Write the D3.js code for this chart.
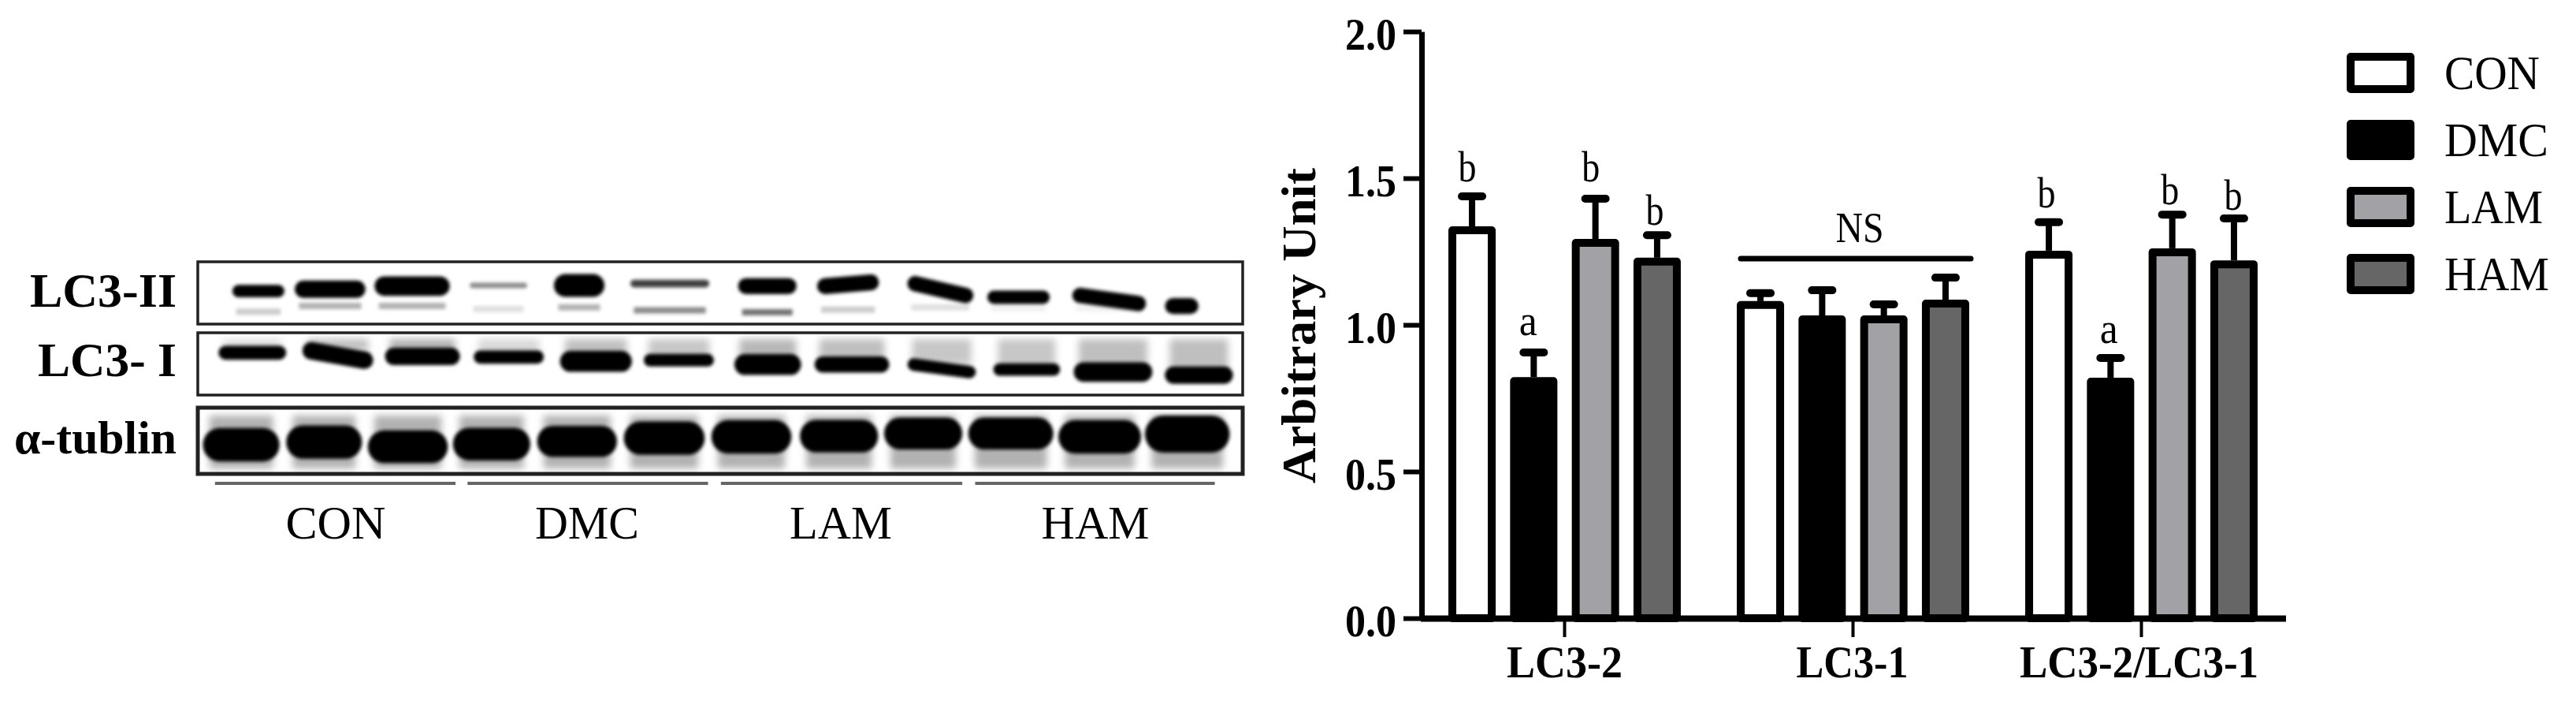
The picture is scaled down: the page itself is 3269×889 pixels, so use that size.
<!DOCTYPE html>
<html>
<head>
<meta charset="utf-8">
<script src="https://cdn.jsdelivr.net/npm/d3@7"></script>
<style>
  body { margin: 0; background: #fff; }
  text { font-family: "Liberation Serif", serif; fill: #000; }
</style>
</head>
<body>
<svg id="fig" width="3269" height="889"></svg>
<script>
// ---- bar chart data
const groups = ["LC3-2", "LC3-1", "LC3-2/LC3-1"];
const series = ["CON", "DMC", "LAM", "HAM"];
const lc32Means = [1.336, 0.822, 1.293, 1.229];
const lc31Means = [1.081, 1.032, 1.032, 1.086];
const ratioMeans = [1.253, 0.820, 1.261, 1.220];
const lc32Tops = [1.438, 0.906, 1.430, 1.306];
const lc31Tops = [1.108, 1.118, 1.070, 1.161];
const ratioTops = [1.350, 0.887, 1.376, 1.363];
const lc32Letters = ["b", "a", "b", "b"];
const ratioLetters = ["b", "a", "b", "b"];
const yTicks = [0, 0.5, 1, 1.5, 2];

// ---- blot data, lanes counted 1..12, y as a fraction of the panel height
const blotGroups = ["CON", "DMC", "LAM", "HAM"];
const groupLineFrom = [0.65, 3.59, 6.54, 9.50];
const groupLineTo = [3.45, 6.39, 9.35, 12.29];

const iiLeft = [0.86, 1.59, 2.52, 3.62, 4.61, 5.49, 6.75, 7.67, 8.72, 9.65, 10.64, 11.72];
const iiRight = [1.45, 2.39, 3.37, 4.28, 5.17, 6.40, 7.41, 8.37, 9.47, 10.36, 11.48, 12.09];
const iiYL = [.47, .44, .39, .38, .38, .35, .39, .39, .35, .57, .54, .71];
const iiYR = [.47, .44, .39, .38, .38, .35, .39, .33, .54, .57, .67, .71];
const iiThick = [.18, .25, .28, .08, .33, .11, .23, .23, .22, .19, .22, .23];
const iiDark = [1, 1, 1, .45, 1, .75, 1, 1, 1, 1, 1, 1];
const iiLowY = [.80, .71, .71, .76, .73, .78, .81, .77, .73, .75, .75, .75];
const iiLowDark = [.2, .3, .3, .12, .3, .45, .55, .2, .12, .05, .05, 0];

const iLeft = [.70, 1.68, 2.64, 3.67, 4.68, 5.65, 6.71, 7.64, 8.72, 9.72, 10.66, 11.72];
const iRight = [1.47, 2.48, 3.49, 4.47, 5.49, 6.45, 7.46, 8.49, 9.50, 10.48, 11.55, 12.49];
const iYL = [.32, .29, .38, .39, .46, .44, .51, .51, .51, .59, .63, .68];
const iYR = [.32, .44, .38, .39, .46, .44, .51, .51, .63, .59, .63, .68];
const iThick = [.20, .25, .25, .19, .30, .18, .30, .23, .18, .18, .28, .25];
const iSmear = [.12, .25, .3, .15, .25, .22, .28, .25, .22, .22, .25, .25];

const tubLeft = [.53, 1.50, 2.45, 3.44, 4.42, 5.43, 6.45, 7.48, 8.46, 9.44, 10.49, 11.50];
const tubRight = [1.38, 2.34, 3.34, 4.30, 5.31, 6.33, 7.34, 8.35, 9.33, 10.39, 11.41, 12.44];
const tubY = [.56, .52, .59, .55, .51, .46, .44, .43, .39, .39, .44, .40];
const tubThick = [.45, .45, .44, .44, .42, .45, .45, .44, .43, .43, .45, .50];

const svg = d3.select("#fig");
const defs = svg.append("defs");
// userSpaceOnUse because a flat line has an empty bounding box and would vanish
function blurFilter(id, sd) {
  defs.append("filter").attr("id", id)
    .attr("filterUnits", "userSpaceOnUse")
    .attr("x", 0).attr("y", 300).attr("width", 1700).attr("height", 330)
    .append("feGaussianBlur").attr("stdDeviation", sd);
}
blurFilter("soft", 2.2);
blurFilter("smear", 5);

// text helper, the target widths squeeze Times to the narrow look of the figure
function put(parent, str, x, y, size, weight, len, anchor) {
  return parent.append("text")
    .attr("x", x).attr("y", y)
    .attr("font-size", size)
    .attr("font-weight", weight)
    .attr("text-anchor", anchor || "middle")
    .attr("textLength", len)
    .attr("lengthAdjust", "spacingAndGlyphs")
    .text(str);
}

// ---- left side: blot panels
const xLane = d3.scaleLinear().domain([1, 12]).range([311, 1510]);
const lanes = d3.range(12);

function panel(name, top, bottom, strokeW, draw) {
  const y = d3.scaleLinear().domain([0, 1]).range([top, bottom]);
  const h = bottom - top;
  defs.append("clipPath").attr("id", "clip-" + name).append("rect")
    .attr("x", 251).attr("y", top)
    .attr("width", 1326).attr("height", h);
  const g = svg.append("g").attr("clip-path", "url(#clip-" + name + ")");
  draw(g, y, h);
  svg.append("rect")
    .attr("x", 251).attr("y", top).attr("width", 1326).attr("height", h)
    .attr("fill", "none").attr("stroke", "#222").attr("stroke-width", strokeW);
}

function bands(g, y, h, left, right, yl, yr, thick, dark) {
  // blur eats the edge of a band, so draw it a little fatter than measured
  const fat = 1.12;
  g.append("g").attr("filter", "url(#soft)")
    .selectAll("line").data(lanes).enter().append("line")
    .attr("x1", i => xLane(left[i]) + thick[i] * h / 2)
    .attr("x2", i => xLane(right[i]) - thick[i] * h / 2)
    .attr("y1", i => y(yl[i]))
    .attr("y2", i => y(yr[i]))
    .attr("stroke", "#000")
    .attr("stroke-opacity", i => dark[i])
    .attr("stroke-width", i => thick[i] * h * fat)
    .attr("stroke-linecap", "round");
}

panel("ii", 332, 411, 3.5, (g, y, h) => {
  // faint lower bands
  g.append("g").attr("filter", "url(#soft)")
    .selectAll("line").data(lanes).enter().append("line")
    .attr("x1", i => xLane(iiLeft[i]) + 4)
    .attr("x2", i => xLane(iiRight[i]) - 4)
    .attr("y1", i => y(iiLowY[i]))
    .attr("y2", i => y(iiLowY[i]))
    .attr("stroke", "#000")
    .attr("stroke-opacity", i => iiLowDark[i])
    .attr("stroke-width", 8);
  bands(g, y, h, iiLeft, iiRight, iiYL, iiYR, iiThick, iiDark);
});

panel("i", 422, 501, 3.5, (g, y, h) => {
  // the grey haze above each band
  g.append("g").attr("filter", "url(#smear)")
    .selectAll("rect").data(lanes).enter().append("rect")
    .attr("x", i => xLane(iLeft[i]) + 5)
    .attr("width", i => xLane(iRight[i]) - xLane(iLeft[i]) - 10)
    .attr("y", y(0.1))
    .attr("height", i => y(iYL[i]) - y(0.1))
    .attr("fill", "#000")
    .attr("fill-opacity", i => iSmear[i]);
  bands(g, y, h, iLeft, iRight, iYL, iYR, iThick, lanes.map(() => 1));
});

panel("tub", 517, 601, 5, (g, y, h) => {
  g.append("g").attr("filter", "url(#smear)")
    .selectAll("rect").data(lanes).enter().append("rect")
    .attr("x", i => xLane(tubLeft[i]) + 6)
    .attr("width", i => xLane(tubRight[i]) - xLane(tubLeft[i]) - 12)
    .attr("y", y(0.12))
    .attr("height", y(0.92) - y(0.12))
    .attr("fill", "#000")
    .attr("fill-opacity", .3);
  bands(g, y, h, tubLeft, tubRight, tubY, tubY, tubThick, lanes.map(() => 1));
});

svg.selectAll(".group-line").data(blotGroups).enter().append("line")
  .attr("class", "group-line")
  .attr("x1", (d, i) => xLane(groupLineFrom[i]))
  .attr("x2", (d, i) => xLane(groupLineTo[i]))
  .attr("y1", 613).attr("y2", 613)
  .attr("stroke", "#666").attr("stroke-width", 4);

const blotLabelX = [426, 745, 1067, 1390];
const blotLabelW = [127, 132, 130, 137];
blotGroups.forEach((d, i) => put(svg, d, blotLabelX[i], 683, 60, "normal", blotLabelW[i]));

put(svg, "LC3-II", 224, 389, 62, "bold", 186, "end");
put(svg, "LC3- I", 224, 477, 62, "bold", 176, "end");
put(svg, "α-tublin", 224, 575, 60, "bold", 206, "end");

// ---- right side: bar chart
const y = d3.scaleLinear().domain([0, 2]).range([784, 40]);
const xGroup = d3.scaleBand().domain(groups).range([1802.5, 2900.5]);
const xBar = d3.scaleBand().domain(series).range([-156.6, 156.6]);
const barFill = d3.scaleOrdinal().domain(series).range(["#ffffff", "#000000", "#a2a2a6", "#666666"]);
const barW = 60, edge = 10;

const yAxis = svg.append("g").attr("transform", "translate(1804,0)")
  .call(d3.axisLeft(y).tickValues(yTicks).tickFormat(d3.format(".1f")).tickSize(23).tickSizeOuter(0));
yAxis.selectAll(".domain").attr("stroke", "#000").attr("stroke-width", 7);
yAxis.selectAll(".tick line").attr("stroke", "#000").attr("stroke-width", 6);
yAxis.selectAll(".tick text")
  .attr("x", -32).attr("dy", 22)
  .attr("font-family", "Liberation Serif")
  .attr("font-size", 56).attr("font-weight", "bold")
  .attr("textLength", 65).attr("lengthAdjust", "spacingAndGlyphs");

const xAxis = svg.append("g").attr("transform", "translate(0,784)")
  .call(d3.axisBottom(xGroup).tickSize(24).tickSizeOuter(0).tickFormat(""));
xAxis.selectAll(".domain").attr("stroke", "#000").attr("stroke-width", 8);
xAxis.selectAll(".tick line").attr("stroke", "#000").attr("stroke-width", 4);

const groupLabelW = [147, 142, 303];
const groupLabelNudge = [0, -1, -3];
groups.forEach((d, i) => put(svg, d, xGroup(d) + xGroup.bandwidth() / 2 + groupLabelNudge[i], 859, 58, "bold", groupLabelW[i]));

svg.append("text")
  .attr("transform", "translate(1669,413) rotate(-90)")
  .attr("text-anchor", "middle")
  .attr("font-size", 62).attr("font-weight", "bold")
  .attr("textLength", 400).attr("lengthAdjust", "spacingAndGlyphs")
  .text("Arbitrary Unit");

const means = [lc32Means, lc31Means, ratioMeans];
const tops = [lc32Tops, lc31Tops, ratioTops];
const barData = [];
groups.forEach((g, gi) => series.forEach((s, si) => {
  barData.push({ g: g, s: s, mean: means[gi][si], top: tops[gi][si] });
}));
const barX = d => xGroup(d.g) + xGroup.bandwidth() / 2 + xBar(d.s) + xBar.bandwidth() / 2;

svg.selectAll(".whisker").data(barData).enter().append("line")
  .attr("class", "whisker")
  .attr("x1", barX).attr("x2", barX)
  .attr("y1", d => y(d.mean)).attr("y2", d => y(d.top))
  .attr("stroke", "#000").attr("stroke-width", 8);
svg.selectAll(".cap").data(barData).enter().append("line")
  .attr("class", "cap")
  .attr("x1", d => barX(d) - 13).attr("x2", d => barX(d) + 13)
  .attr("y1", d => y(d.top)).attr("y2", d => y(d.top))
  .attr("stroke", "#000").attr("stroke-width", 10).attr("stroke-linecap", "round");
svg.selectAll(".bar").data(barData).enter().append("rect")
  .attr("class", "bar")
  .attr("x", d => barX(d) - barW / 2 + edge / 2)
  .attr("width", barW - edge)
  .attr("y", d => y(d.mean) + edge / 2)
  .attr("height", d => y(0) - y(d.mean) - edge / 2)
  .attr("fill", d => barFill(d.s))
  .attr("stroke", "#000").attr("stroke-width", edge).attr("stroke-linejoin", "round");

// significance letters, nudged to where the figure has them
const lc32NudgeX = [-6, -7, -6, -3];
const lc32Lift = [19, 22, 22, 13];
const ratioNudgeX = [-3, -2, -3, -1];
const ratioLift = [19, 19, 13, 11];
series.forEach((s, i) => {
  const a = barData.find(d => d.g === "LC3-2" && d.s === s);
  put(svg, lc32Letters[i], barX(a) + lc32NudgeX[i], y(a.top) - lc32Lift[i], 54, "normal", 23);
  const c = barData.find(d => d.g === "LC3-2/LC3-1" && d.s === s);
  put(svg, ratioLetters[i], barX(c) + ratioNudgeX[i], y(c.top) - ratioLift[i], 54, "normal", 23);
});

// NS bracket over the middle group
svg.append("line")
  .attr("x1", 2209).attr("x2", 2501).attr("y1", 328).attr("y2", 328)
  .attr("stroke", "#000").attr("stroke-width", 7).attr("stroke-linecap", "round");
put(svg, "NS", 2360, 307, 54, "normal", 61);

// ---- legend
const legendY = d3.scalePoint().domain(series).range([67, 322]);
const legendW = [121, 132, 125, 133];
const legend = svg.selectAll(".legend").data(series).enter().append("g").attr("class", "legend");
legend.append("rect")
  .attr("x", 2983).attr("y", d => legendY(d) + 5)
  .attr("width", 76).attr("height", 41)
  .attr("fill", d => barFill(d))
  .attr("stroke", "#000").attr("stroke-width", 10).attr("stroke-linejoin", "round");
series.forEach((d, i) => put(svg, d, 3102, legendY(d) + 46, 62, "normal", legendW[i], "start"));
</script>
</body>
</html>
